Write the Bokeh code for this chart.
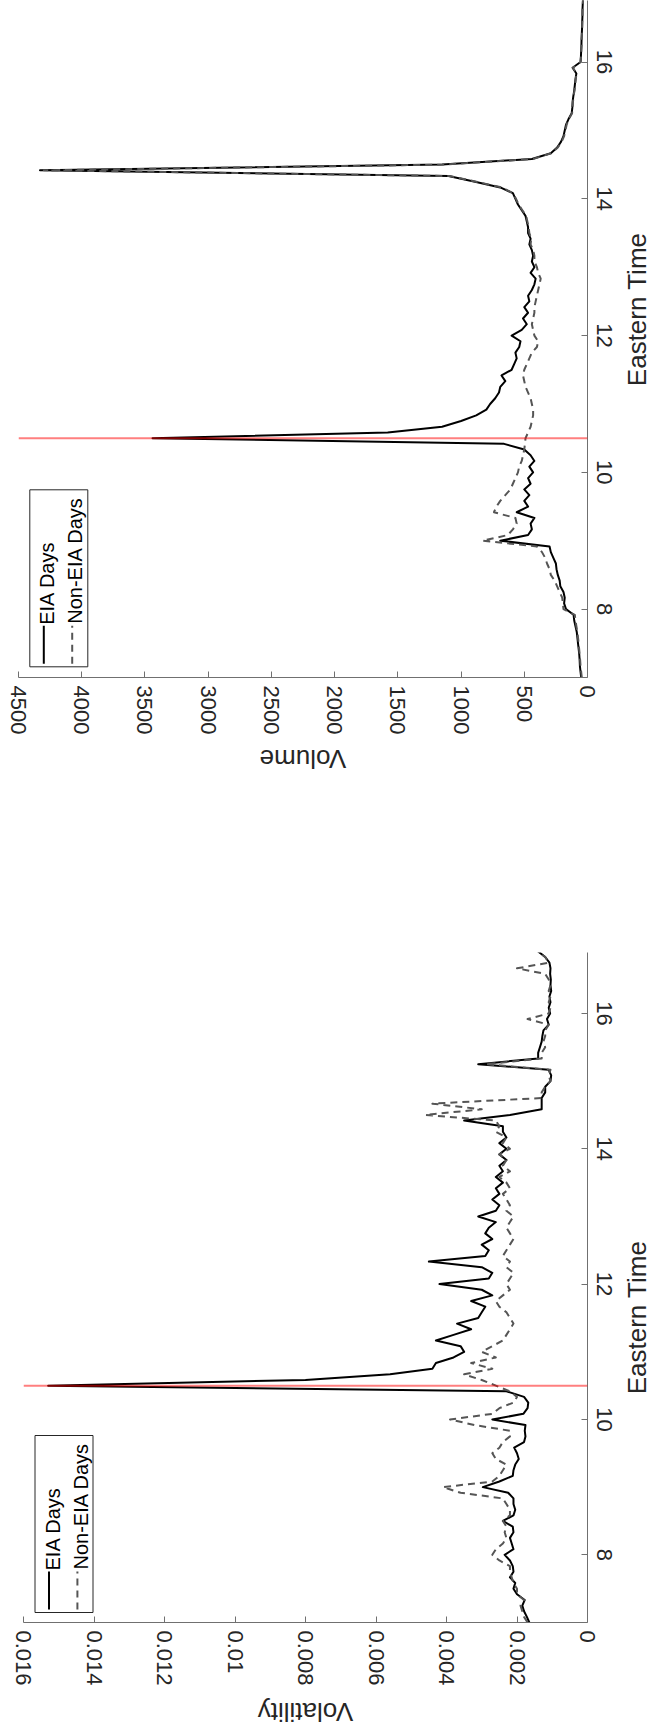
import math
from bokeh.plotting import figure
from bokeh.models import Range1d, FixedTicker, Span
from bokeh.layouts import column, row
from bokeh.embed import file_html
from bokeh.resources import INLINE
from bokeh.core.properties import value

# ---------------- data ----------------
# 5-minute bins, 7:00 .. 16:55 Eastern Time
minutes = list(range(420, 1020, 5))
times = [m / 60.0 for m in minutes]

volume_eia = [
    50, 55, 60, 62, 65, 70, 75, 80, 85, 95, 105, 110,
    170, 185, 180, 190, 215, 220, 235, 245, 250, 270, 290, 300,
    690, 470, 440, 450, 420, 560, 470, 500, 460, 500, 450, 470,
    430, 460, 420, 450, 500, 660, 3440, 1580, 1150, 1000, 880, 800,
    770, 730, 700, 690, 650, 680, 600, 580, 560, 570, 540, 530,
    600, 520, 480, 510, 470, 500, 460, 470, 440, 420, 410, 450,
    420, 440, 430, 440, 460, 450, 470, 470, 480, 490, 520, 550,
    570, 590, 690, 890, 1100, 4330, 1150, 440, 290, 240, 210, 190,
    180, 170, 150, 125, 120, 118, 112, 105, 100, 95, 88, 118,
    55, 52, 50, 48, 47, 45, 43, 42, 40, 40, 38, 36,
]
volume_non_eia = [
    45, 50, 55, 58, 62, 66, 70, 75, 80, 88, 95, 100,
    190, 195, 200, 220, 240, 260, 290, 300, 320, 335, 360, 400,
    830, 630, 590, 560, 570, 740, 720, 690, 650, 610, 590, 570,
    550, 540, 520, 510, 500, 495, 490, 470, 450, 440, 430, 430,
    440, 450, 470, 490, 500, 510, 500, 480, 460, 440, 400, 390,
    420, 430, 440, 430, 420, 420, 410, 400, 390, 380, 370, 390,
    400, 420, 420, 430, 450, 445, 460, 465, 475, 485, 515, 545,
    565, 590, 680, 880, 1090, 4300, 1140, 430, 285, 235, 205, 185,
    175, 165, 148, 122, 118, 115, 110, 103, 98, 93, 87, 115,
    55, 51, 49, 47, 46, 44, 42, 41, 40, 39, 37, 35,
]
volatility_eia = [
    0.00165, 0.00172, 0.0018, 0.00185, 0.00178, 0.0020, 0.0021, 0.00205, 0.0022, 0.0021, 0.00212, 0.0022,
    0.00235, 0.0021, 0.00215, 0.0022, 0.0021, 0.00212, 0.0024, 0.0021, 0.00205, 0.0021, 0.0021, 0.00225,
    0.00297, 0.0025, 0.00212, 0.0021, 0.00205, 0.00195, 0.0020, 0.00208, 0.0018, 0.00176, 0.00178, 0.00176,
    0.0027, 0.00182, 0.0017, 0.00168, 0.0018, 0.0023, 0.0153, 0.0080, 0.0056, 0.0044, 0.0043, 0.0038,
    0.0035, 0.0036, 0.0043, 0.0038, 0.0033, 0.0037, 0.0031, 0.0030, 0.0029, 0.0033, 0.0027, 0.0030,
    0.0042, 0.0028, 0.0027, 0.0030, 0.0045, 0.0029, 0.0028, 0.0030, 0.0027, 0.0029, 0.0028, 0.0026,
    0.0031, 0.0026, 0.0025, 0.0027, 0.0025, 0.0026, 0.0024, 0.0026, 0.0024, 0.0025, 0.0023, 0.0025,
    0.0023, 0.0025, 0.0023, 0.0024, 0.0024, 0.0035, 0.0022, 0.0013, 0.0013, 0.0013, 0.0012, 0.0012,
    0.00105, 0.00103, 0.0011, 0.0031, 0.0014, 0.0014, 0.00135, 0.0013, 0.00128, 0.00125, 0.0011, 0.00115,
    0.00106, 0.0011, 0.00105, 0.00108, 0.00103, 0.00105, 0.00104, 0.00106, 0.00105, 0.00108, 0.0012, 0.0014,
]
volatility_non_eia = [
    0.0017, 0.0018, 0.00185, 0.0019, 0.0018, 0.0020, 0.0020, 0.0021, 0.00215, 0.0022, 0.0022, 0.0025,
    0.0027, 0.0026, 0.0024, 0.0023, 0.00235, 0.0023, 0.0024, 0.0022, 0.0022, 0.0023, 0.0024, 0.0036,
    0.0041, 0.0027, 0.0025, 0.0024, 0.0023, 0.0026, 0.0027, 0.0025, 0.0024, 0.0022, 0.0022, 0.0032,
    0.0039, 0.0027, 0.0025, 0.0021, 0.0020, 0.0022, 0.0026, 0.0030, 0.0035, 0.0027, 0.0033, 0.0026,
    0.0030, 0.0027, 0.0024, 0.0023, 0.0022, 0.0021, 0.0022, 0.0023, 0.0025, 0.0026, 0.0024, 0.0022,
    0.0023, 0.0022, 0.0021, 0.0023, 0.0022, 0.0024, 0.0023, 0.0022, 0.0021, 0.0022, 0.0023, 0.0022,
    0.0021, 0.0023, 0.0022, 0.0023, 0.0024, 0.0022, 0.0023, 0.0025, 0.0022, 0.0024, 0.0023, 0.0025,
    0.0022, 0.0024, 0.0023, 0.0026, 0.0025, 0.0026, 0.0046, 0.0030, 0.0044, 0.0013, 0.0013, 0.0012,
    0.00105, 0.0011, 0.00105, 0.0029, 0.0013, 0.0013, 0.0012, 0.00125, 0.0012, 0.0012, 0.0011, 0.0017,
    0.0011, 0.00105, 0.0011, 0.00105, 0.0011, 0.00105, 0.0011, 0.0012, 0.0020, 0.0011, 0.0012, 0.0014,
]
eia_release_time = 10.5

time_ticks = [8, 10, 12, 14, 16]
time_labels = ["8", "10", "12", "14", "16"]
volume_ticks = [0, 500, 1000, 1500, 2000, 2500, 3000, 3500, 4000, 4500]
volume_labels = ["0", "500", "1000", "1500", "2000", "2500", "3000", "3500", "4000", "4500"]
volatility_ticks = [0, 0.002, 0.004, 0.006, 0.008, 0.01, 0.012, 0.014, 0.016]
volatility_labels = ["0", "0.002", "0.004", "0.006", "0.008", "0.01", "0.012", "0.014", "0.016"]
legend_labels = ["EIA Days", "Non-EIA Days"]
time_title = "Eastern Time"
volume_title = "Volume"
volatility_title = "Volatility"

# ---------------- styling ----------------
FONT = "Liberation Sans"
TXT = "#262626"
AXC = "#707070"
DASH_COLOR = "#555555"
T0, T1 = 7.0, 16.9
PANEL_W = 621          # width of a plot figure; the rest holds the time title
SIDE_W = 654 - PANEL_W


def make_panel(vmax, vticks, vlabels, eia, non, fl, ft, fw, fh, height, legend_xy):
    # ft: frame top inside this figure
    p = figure(x_range=Range1d(vmax, 0), y_range=Range1d(T0, T1),
               width=PANEL_W, height=height,
               min_border_left=fl, min_border_right=PANEL_W - fl - fw,
               min_border_top=ft, min_border_bottom=height - ft - fh,
               x_axis_location="below", y_axis_location="right",
               output_backend="svg", toolbar_location=None,
               background_fill_color="white", border_fill_color="white")
    p.outline_line_color = None
    p.grid.visible = False

    for ax in (p.xaxis[0], p.yaxis[0]):
        ax.axis_line_color = AXC
        ax.major_tick_line_color = AXC
        ax.major_tick_in = 6
        ax.major_tick_out = 0
        ax.minor_tick_line_color = None
        ax.major_label_text_font = FONT
        ax.major_label_text_font_size = "22px"
        ax.major_label_text_color = TXT

    xa = p.xaxis[0]
    xa.ticker = FixedTicker(ticks=vticks)
    xa.major_label_overrides = {t: l for t, l in zip(vticks, vlabels)}
    xa.major_label_orientation = "vertical"
    xa.major_label_standoff = 8

    ya = p.yaxis[0]
    ya.ticker = FixedTicker(ticks=time_ticks)
    ya.major_label_overrides = {t: l for t, l in zip(time_ticks, time_labels)}
    ya.major_label_orientation = "vertical"
    ya.major_label_standoff = 9

    def dx(X):
        return vmax + (X - fl) / fw * (0 - vmax)

    def dy(Y):
        return T1 - (Y - ft) / fh * (T1 - T0)

    # lines (value runs horizontally, time runs vertically)
    p.line(x=eia, y=times, line_color="black", line_width=2, line_join="round")
    p.line(x=non, y=times, line_color=DASH_COLOR, line_width=2, line_dash="7 5",
           line_join="round")

    p.add_layout(Span(location=eia_release_time, dimension="width",
                      line_color="red", line_alpha=0.5, line_width=2))

    # legend
    bx, by = legend_xy
    bw, bh = 58, 177
    p.quad(left=[dx(bx)], right=[dx(bx + bw)], top=[dy(by)], bottom=[dy(by + bh)],
           fill_color="white", line_color=TXT, line_width=1)
    p.line([dx(bx + 14), dx(bx + 14)], [dy(by + 174), dy(by + 136)],
           line_color="black", line_width=2)
    p.line([dx(bx + 42.4), dx(bx + 42.4)], [dy(by + 174), dy(by + 136)],
           line_color=DASH_COLOR, line_width=2, line_dash="7 5")
    p.text(x=[dx(bx + 17.5), dx(bx + 45.5)], y=[dy(by + 135), dy(by + 134)],
           text=legend_labels, angle=math.pi / 2,
           text_font=value(FONT), text_font_size="20px", text_color="black",
           text_align="left", text_baseline="middle")
    return p


def text_strip(width, height, x, y, text, angle):
    f = figure(width=width, height=height,
               x_range=Range1d(0, width), y_range=Range1d(0, height),
               min_border_left=0, min_border_right=0, min_border_top=0, min_border_bottom=0,
               x_axis_location=None, y_axis_location=None,
               output_backend="svg", toolbar_location=None,
               background_fill_color="white", border_fill_color="white")
    f.outline_line_color = None
    f.grid.visible = False
    f.text(x=[x], y=[y], text=[text], angle=angle,
           text_font=value(FONT), text_font_size="26px", text_color=TXT,
           text_align="center", text_baseline="middle")
    return f


# --- top section: Volume (page y 0..800) ---
H1 = 742
p1 = make_panel(4500, volume_ticks, volume_labels, volume_eia, volume_non_eia,
                fl=18, ft=0, fw=569, fh=677, height=H1, legend_xy=(29.3, 489.3))
r1 = text_strip(SIDE_W, H1, 636 - PANEL_W, H1 - 338.5, time_title, math.pi / 2)
b1 = text_strip(654, 800 - H1, 302.5, 800 - 758, volume_title, math.pi)

# --- bottom section: Volatility (page y 800..1726) ---
H2 = 894
p2 = make_panel(0.016, volatility_ticks, volatility_labels, volatility_eia, volatility_non_eia,
                fl=23, ft=152, fw=564, fh=670, height=H2, legend_xy=(34.5, 1435 - 800))
r2 = text_strip(SIDE_W, H2, 636 - PANEL_W, H2 - (1287 - 800), time_title, math.pi / 2)
b2 = text_strip(654, 1726 - 800 - H2, 305, 1726 - 1711, volatility_title, math.pi)

layout = column(row(p1, r1, spacing=0), b1, row(p2, r2, spacing=0), b2, spacing=0)
open("out.html", "w").write(file_html(layout, INLINE))
